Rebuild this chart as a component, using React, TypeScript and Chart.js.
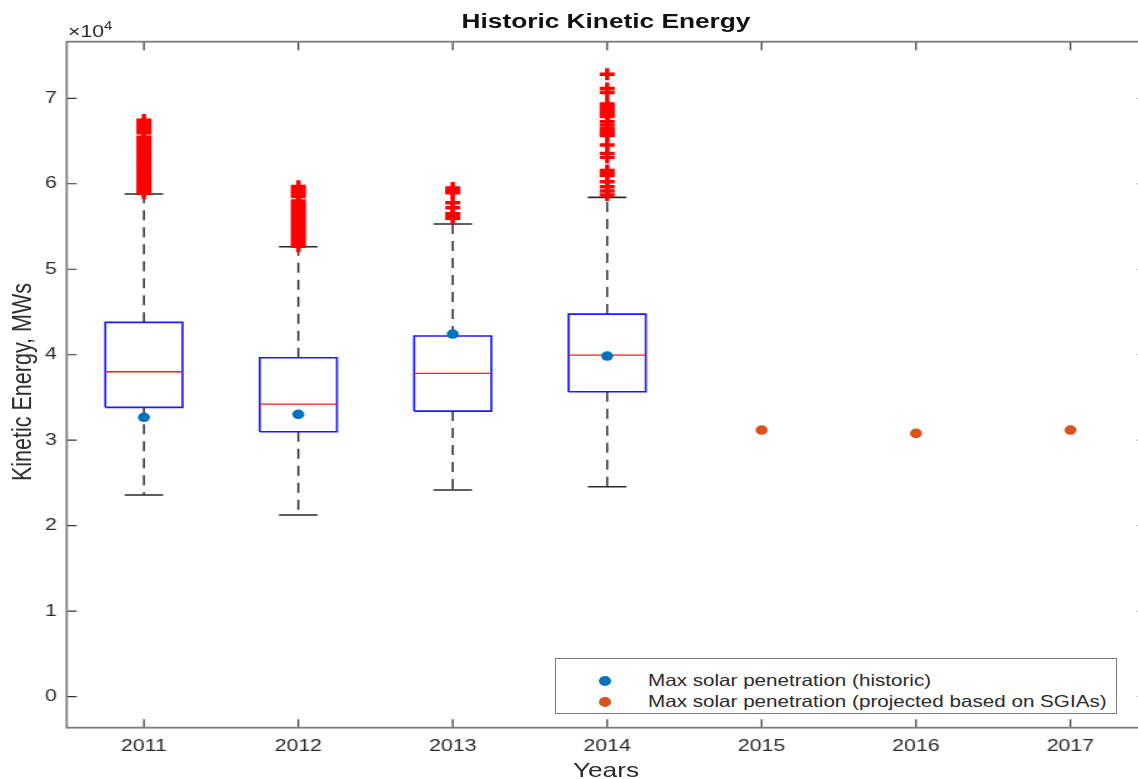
import React, { useEffect, useRef } from "react";
import { Chart, registerables } from "chart.js";

Chart.register(...registerables);

// ---------- data ----------
const years = [2011, 2012, 2013, 2014, 2015, 2016, 2017];
const yearLabels = ["2011", "2012", "2013", "2014", "2015", "2016", "2017"];
const yTickValues = [0, 10000, 20000, 30000, 40000, 50000, 60000, 70000];
const yTickLabels = ["0", "1", "2", "3", "4", "5", "6", "7"];

const boxYears = [2011, 2012, 2013, 2014];
const q1 = [33850, 30990, 33410, 35670];
const medians = [38010, 34230, 37820, 39960];
const q3 = [43790, 39650, 42190, 44760];
const whiskerLow = [23590, 21250, 24175, 24560];
const whiskerHigh = [58795, 52630, 55290, 58410];

const outliers2011 = [
  67450, 67150, 66850, 66550, 66250, 65950, 65450, 65150, 64850, 64550, 64250,
  63950, 63650, 63350, 63050, 62750, 62450, 62150, 61850, 61550, 61250, 60950,
  60650, 60350, 60050, 59750, 59450, 59150, 58900,
];
const outliers2012 = [
  59700, 59400, 59100, 58800, 58500, 58000, 57700, 57400, 57100, 56800, 56500,
  56200, 55900, 55600, 55300, 55000, 54700, 54400, 54100, 53800, 53500, 53200,
  52900, 52700,
];
const outliers2013 = [59500, 59200, 58950, 57780, 57190, 56500, 56200, 55950];
const outliers2014 = [
  72820, 71150, 70680, 69350, 69050, 68750, 68450, 68150, 67850, 67250, 66860,
  66450, 66150, 65850, 65650, 64530, 63560, 63090, 61550, 61250, 60950, 60230,
  59650, 59150, 58680,
];
const outlierLists = [outliers2011, outliers2012, outliers2013, outliers2014];

const historic = [32680, 33030, 42420, 39850];
const projectedYears = [2015, 2016, 2017];
const projected = [31190, 30800, 31190];

const legendLabels = [
  "Max solar penetration (historic)",
  "Max solar penetration (projected based on SGIAs)",
];

// ---------- layout / style ----------
const STRETCH = 1.25; // figure is horizontally stretched
const CANVAS_W = 928;
const CANVAS_H = 779;
const AREA_LEFT = 66.7; // page px
const AREA_RIGHT = 1147.6;
const AREA_TOP = 41.7;
const AREA_BOTTOM = 727.7;
const BOX_HALF = 0.25;
const CAP_HALF = 0.125;
const FONT = '"Liberation Sans", Arial, Helvetica, sans-serif';
const BLUE_DOT = "#0072BD";
const ORANGE_DOT = "#D95319";
const AXIS_COLOR = "#7c7c7c";
const TEXT_COLOR = "#2b2b2b";

type P = { x: number; y: number | null };

function segs(list: [number, number, number, number][]): P[] {
  const out: P[] = [];
  list.forEach(([x1, y1, x2, y2], i) => {
    if (i) out.push({ x: x1, y: null });
    out.push({ x: x1, y: y1 }, { x: x2, y: y2 });
  });
  return out;
}

function boxOutlines(): P[] {
  const out: P[] = [];
  boxYears.forEach((x, i) => {
    if (i) out.push({ x: x - BOX_HALF, y: null });
    out.push(
      { x: x - BOX_HALF, y: q1[i] },
      { x: x + BOX_HALF, y: q1[i] },
      { x: x + BOX_HALF, y: q3[i] },
      { x: x - BOX_HALF, y: q3[i] },
      { x: x - BOX_HALF, y: q1[i] }
    );
  });
  return out;
}

const lineBase = {
  showLine: true,
  pointRadius: 0,
  pointHoverRadius: 0,
  tension: 0,
  spanGaps: false,
  fill: false,
};

const framePlugin = {
  id: "matlabFrame",
  afterDraw(chart: any) {
    const { ctx, chartArea, scales } = chart;
    const { left, right, top, bottom } = chartArea;
    const xs = scales.x;
    const ys = scales.y;
    ctx.save();
    ctx.strokeStyle = "#333";
    ctx.lineWidth = 1.2;
    ctx.beginPath();
    const xt = 8.5;
    const yt = 10 / STRETCH;
    xs.ticks.forEach((t: any) => {
      const px = xs.getPixelForValue(t.value);
      ctx.moveTo(px, bottom);
      ctx.lineTo(px, bottom - xt);
      ctx.moveTo(px, top);
      ctx.lineTo(px, top + xt);
    });
    ys.ticks.forEach((t: any) => {
      const py = ys.getPixelForValue(t.value);
      ctx.moveTo(left, py);
      ctx.lineTo(left + yt, py);
      ctx.moveTo(right, py);
      ctx.lineTo(right - yt, py);
    });
    ctx.stroke();
    ctx.strokeStyle = AXIS_COLOR;
    ctx.lineWidth = 1.8;
    ctx.strokeRect(left, top, right - left, bottom - top);
    ctx.restore();
  },
};

export default function App() {
  const ref = useRef<HTMLCanvasElement>(null);

  useEffect(() => {
    const canvas = ref.current;
    if (!canvas) return;

    const datasets: any[] = [
      {
        ...lineBase,
        label: "whiskers",
        data: segs(
          boxYears.flatMap((x, i) => [
            [x, q3[i], x, whiskerHigh[i]] as [number, number, number, number],
            [x, q1[i], x, whiskerLow[i]] as [number, number, number, number],
          ])
        ),
        borderColor: "#2a2a2a",
        borderWidth: 1.5,
        borderDash: [10, 7],
        order: 6,
      },
      {
        ...lineBase,
        label: "caps",
        data: segs(
          boxYears.flatMap((x, i) => [
            [x - CAP_HALF, whiskerHigh[i], x + CAP_HALF, whiskerHigh[i]] as [number, number, number, number],
            [x - CAP_HALF, whiskerLow[i], x + CAP_HALF, whiskerLow[i]] as [number, number, number, number],
          ])
        ),
        borderColor: "#2a2a2a",
        borderWidth: 1.6,
        order: 5,
      },
      {
        ...lineBase,
        label: "boxes",
        data: boxOutlines(),
        borderColor: "#1a1aff",
        borderWidth: 1.7,
        order: 4,
      },
      {
        ...lineBase,
        label: "medians",
        data: segs(
          boxYears.map(
            (x, i) => [x - BOX_HALF, medians[i], x + BOX_HALF, medians[i]] as [number, number, number, number]
          )
        ),
        borderColor: "#ff1a1a",
        borderWidth: 1.3,
        order: 3,
      },
      {
        label: "outliers",
        data: boxYears.flatMap((x, i) => outlierLists[i].map((v) => ({ x, y: v }))),
        pointStyle: "cross",
        pointRadius: 6,
        pointHoverRadius: 6,
        borderColor: "#ff0000",
        backgroundColor: "#ff0000",
        pointBorderWidth: 3.4,
        showLine: false,
        order: 2,
      },
      {
        label: legendLabels[0],
        data: boxYears.map((x, i) => ({ x, y: historic[i] })),
        pointStyle: "circle",
        pointRadius: 4.8,
        pointHoverRadius: 4.8,
        backgroundColor: BLUE_DOT,
        borderColor: BLUE_DOT,
        pointBorderWidth: 0,
        showLine: false,
        order: 1,
      },
      {
        label: legendLabels[1],
        data: projectedYears.map((x, i) => ({ x, y: projected[i] })),
        pointStyle: "circle",
        pointRadius: 4.8,
        pointHoverRadius: 4.8,
        backgroundColor: ORANGE_DOT,
        borderColor: ORANGE_DOT,
        pointBorderWidth: 0,
        showLine: false,
        order: 0,
      },
    ];

    const tickFont = { family: FONT, size: 17 };

    const chart = new Chart(canvas, {
      type: "scatter",
      data: { datasets },
      options: {
        responsive: false,
        maintainAspectRatio: false,
        animation: false,
        devicePixelRatio: 1,
        events: [],
        layout: {
          padding: {
            top: AREA_TOP,
            right: CANVAS_W - AREA_RIGHT / STRETCH,
            left: 0,
            bottom: 0,
          },
        },
        plugins: {
          legend: { display: false },
          tooltip: { enabled: false },
          title: { display: false },
        },
        scales: {
          x: {
            type: "linear",
            min: 2010.5,
            max: 2017.5,
            grid: { display: false, drawTicks: false, tickLength: 0 },
            border: { display: false },
            afterBuildTicks: (axis: any) => {
              axis.ticks = years.map((v) => ({ value: v }));
            },
            afterFit: (axis: any) => {
              axis.height = CANVAS_H - AREA_BOTTOM;
            },
            ticks: {
              autoSkip: false,
              maxRotation: 0,
              minRotation: 0,
              padding: 8,
              color: TEXT_COLOR,
              font: tickFont,
              callback: (_v: any, i: number) => yearLabels[i],
            },
          },
          y: {
            type: "linear",
            min: -3630,
            max: 76620,
            grid: { display: false, drawTicks: false, tickLength: 0 },
            border: { display: false },
            afterBuildTicks: (axis: any) => {
              axis.ticks = yTickValues.map((v) => ({ value: v }));
            },
            afterFit: (axis: any) => {
              axis.width = AREA_LEFT / STRETCH;
            },
            ticks: {
              padding: 8,
              color: TEXT_COLOR,
              font: tickFont,
              callback: (_v: any, i: number) => yTickLabels[i],
            },
          },
        },
      } as any,
      plugins: [framePlugin],
    });

    return () => chart.destroy();
  }, []);

  const text: React.CSSProperties = {
    position: "absolute",
    whiteSpace: "nowrap",
    lineHeight: 1,
    color: TEXT_COLOR,
    fontFamily: FONT,
  };

  return (
    <div
      style={{
        position: "fixed",
        left: 0,
        top: 0,
        width: 1138,
        height: 779,
        overflow: "hidden",
        background: "#ffffff",
      }}
    >
      <canvas
        ref={ref}
        width={CANVAS_W}
        height={CANVAS_H}
        style={{
          position: "absolute",
          left: 0,
          top: 0,
          width: `${CANVAS_W * STRETCH}px`,
          height: `${CANVAS_H}px`,
        }}
      />
      {/* title */}
      <div
        style={{
          ...text,
          left: 606,
          top: 10,
          fontSize: 21,
          fontWeight: "bold",
          color: "#111",
          transform: `translateX(-50%) scaleX(${STRETCH})`,
        }}
      >
        Historic Kinetic Energy
      </div>
      {/* exponent */}
      <div
        style={{
          ...text,
          left: 68,
          top: 23,
          fontSize: 17,
          transformOrigin: "left top",
          transform: `scaleX(${STRETCH})`,
        }}
      >
        ×10
        <span style={{ fontSize: 12, position: "relative", top: -7 }}>4</span>
      </div>
      {/* y label */}
      <div
        style={{
          ...text,
          left: 23,
          top: 382,
          fontSize: 21.5,
          transform: `translate(-50%, -50%) scaleX(${STRETCH}) rotate(-90deg)`,
        }}
      >
        Kinetic Energy, MWs
      </div>
      {/* x label */}
      <div
        style={{
          ...text,
          left: 606,
          top: 759,
          fontSize: 21,
          transform: `translateX(-50%) scaleX(${STRETCH})`,
        }}
      >
        Years
      </div>
      {/* legend */}
      <div
        style={{
          position: "absolute",
          left: 555,
          top: 658,
          width: 562,
          height: 56,
          boxSizing: "border-box",
          border: `1.6px solid ${AXIS_COLOR}`,
          background: "#fff",
        }}
      >
        {legendLabels.map((label, i) => (
          <React.Fragment key={label}>
            <div
              style={{
                position: "absolute",
                left: 604 - 555 - 6,
                top: (i === 0 ? 680 : 701) - 658 - 4.8,
                width: 12,
                height: 9.6,
                borderRadius: "50%",
                background: i === 0 ? BLUE_DOT : ORANGE_DOT,
              }}
            />
            <div
              style={{
                ...text,
                left: 647 - 555,
                top: (i === 0 ? 680 : 701) - 658 - 9,
                fontSize: 16.5,
                transformOrigin: "left top",
                transform: `scaleX(${STRETCH})`,
              }}
            >
              {label}
            </div>
          </React.Fragment>
        ))}
      </div>
    </div>
  );
}
